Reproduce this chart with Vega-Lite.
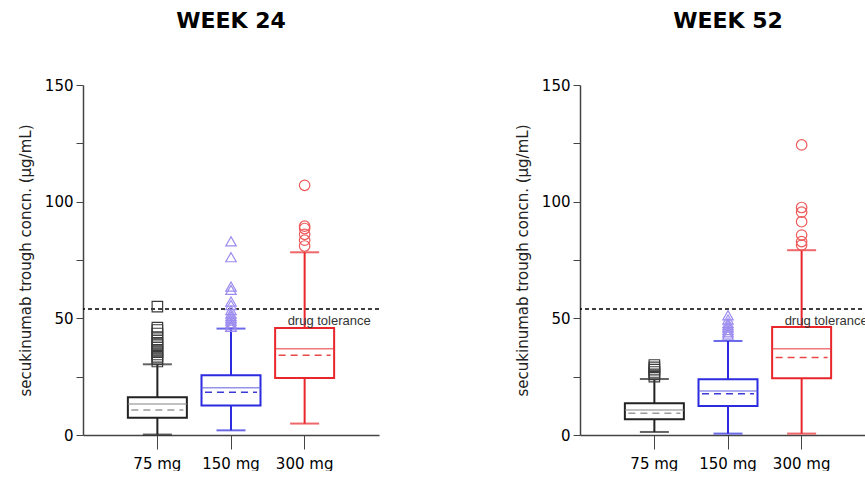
{
  "$schema": "https://vega.github.io/schema/vega-lite/v6.json",
  "padding": {"left": 18, "top": 10, "right": 0, "bottom": 0},
  "background": "white",
  "config": {
    "view": {"stroke": null},
    "font": "DejaVu Sans",
    "concat": {"spacing": 135}
  },
  "datasets": {
    "stats": [
      {"week": "WEEK 24", "dose": "75 mg", "lo": 0.2, "q1": 7.4, "median": 13.3, "mean": 10.7, "q3": 16.2, "hi": 30.3},
      {"week": "WEEK 24", "dose": "150 mg", "lo": 2.0, "q1": 12.6, "median": 20.2, "mean": 18.3, "q3": 25.6, "hi": 45.6},
      {"week": "WEEK 24", "dose": "300 mg", "lo": 4.9, "q1": 24.4, "median": 37.0, "mean": 34.2, "q3": 45.9, "hi": 78.3},
      {"week": "WEEK 52", "dose": "75 mg", "lo": 1.3, "q1": 6.7, "median": 10.7, "mean": 9.3, "q3": 13.6, "hi": 24.0},
      {"week": "WEEK 52", "dose": "150 mg", "lo": 0.6, "q1": 12.4, "median": 18.9, "mean": 17.7, "q3": 23.9, "hi": 40.3},
      {"week": "WEEK 52", "dose": "300 mg", "lo": 0.6, "q1": 24.3, "median": 37.0, "mean": 33.2, "q3": 46.3, "hi": 79.2}
    ],
    "outliers": [
      {"week": "WEEK 24", "dose": "75 mg", "value": 55},
      {"week": "WEEK 24", "dose": "75 mg", "value": 46},
      {"week": "WEEK 24", "dose": "75 mg", "value": 45},
      {"week": "WEEK 24", "dose": "75 mg", "value": 43.5},
      {"week": "WEEK 24", "dose": "75 mg", "value": 42},
      {"week": "WEEK 24", "dose": "75 mg", "value": 40.5},
      {"week": "WEEK 24", "dose": "75 mg", "value": 39.5},
      {"week": "WEEK 24", "dose": "75 mg", "value": 38.5},
      {"week": "WEEK 24", "dose": "75 mg", "value": 37.5},
      {"week": "WEEK 24", "dose": "75 mg", "value": 36.5},
      {"week": "WEEK 24", "dose": "75 mg", "value": 35.5},
      {"week": "WEEK 24", "dose": "75 mg", "value": 34.5},
      {"week": "WEEK 24", "dose": "75 mg", "value": 33.5},
      {"week": "WEEK 24", "dose": "75 mg", "value": 32.5},
      {"week": "WEEK 24", "dose": "75 mg", "value": 31.5},
      {"week": "WEEK 24", "dose": "150 mg", "value": 83},
      {"week": "WEEK 24", "dose": "150 mg", "value": 76.2},
      {"week": "WEEK 24", "dose": "150 mg", "value": 63.6},
      {"week": "WEEK 24", "dose": "150 mg", "value": 62.2},
      {"week": "WEEK 24", "dose": "150 mg", "value": 57.2},
      {"week": "WEEK 24", "dose": "150 mg", "value": 55.7},
      {"week": "WEEK 24", "dose": "150 mg", "value": 53.5},
      {"week": "WEEK 24", "dose": "150 mg", "value": 52},
      {"week": "WEEK 24", "dose": "150 mg", "value": 51},
      {"week": "WEEK 24", "dose": "150 mg", "value": 50},
      {"week": "WEEK 24", "dose": "150 mg", "value": 49},
      {"week": "WEEK 24", "dose": "150 mg", "value": 48},
      {"week": "WEEK 24", "dose": "150 mg", "value": 47},
      {"week": "WEEK 24", "dose": "150 mg", "value": 46.3},
      {"week": "WEEK 24", "dose": "300 mg", "value": 107},
      {"week": "WEEK 24", "dose": "300 mg", "value": 89.5},
      {"week": "WEEK 24", "dose": "300 mg", "value": 88.5},
      {"week": "WEEK 24", "dose": "300 mg", "value": 86},
      {"week": "WEEK 24", "dose": "300 mg", "value": 83.5},
      {"week": "WEEK 24", "dose": "300 mg", "value": 81},
      {"week": "WEEK 52", "dose": "75 mg", "value": 30},
      {"week": "WEEK 52", "dose": "75 mg", "value": 29},
      {"week": "WEEK 52", "dose": "75 mg", "value": 28},
      {"week": "WEEK 52", "dose": "75 mg", "value": 27},
      {"week": "WEEK 52", "dose": "75 mg", "value": 26},
      {"week": "WEEK 52", "dose": "75 mg", "value": 25},
      {"week": "WEEK 52", "dose": "150 mg", "value": 51.3},
      {"week": "WEEK 52", "dose": "150 mg", "value": 49.5},
      {"week": "WEEK 52", "dose": "150 mg", "value": 48},
      {"week": "WEEK 52", "dose": "150 mg", "value": 47},
      {"week": "WEEK 52", "dose": "150 mg", "value": 46},
      {"week": "WEEK 52", "dose": "150 mg", "value": 45},
      {"week": "WEEK 52", "dose": "150 mg", "value": 44},
      {"week": "WEEK 52", "dose": "150 mg", "value": 43},
      {"week": "WEEK 52", "dose": "300 mg", "value": 124.3},
      {"week": "WEEK 52", "dose": "300 mg", "value": 97.5},
      {"week": "WEEK 52", "dose": "300 mg", "value": 95.5},
      {"week": "WEEK 52", "dose": "300 mg", "value": 91.4},
      {"week": "WEEK 52", "dose": "300 mg", "value": 85.7},
      {"week": "WEEK 52", "dose": "300 mg", "value": 82.9},
      {"week": "WEEK 52", "dose": "300 mg", "value": 81.4}
    ],
    "tolerance": [{"label": "drug tolerance", "value": 54, "labelY": 48.7}]
  },
  "hconcat": [
    {
      "width": 296,
      "height": 350,
      "title": {"text": "WEEK 24", "fontSize": 22, "fontWeight": "bold", "color": "#000", "anchor": "middle", "baseline": "alphabetic", "offset": 28},
      "encoding": {
        "x": {"field": "dose", "type": "nominal", "sort": ["75 mg", "150 mg", "300 mg"],
          "scale": {"domain": ["75 mg", "150 mg", "300 mg"], "type": "band", "paddingInner": 0, "paddingOuter": 0.51},
          "axis": {"title": null, "labelAngle": 0, "labelFontSize": 15, "labelColor": "#000", "tickSize": 14, "labelPadding": 7, "domainColor": "#444", "tickColor": "#444", "domainWidth": 1.5}}
      },
      "layer": [
        {
          "data": {"name": "tolerance"},
          "mark": {"type": "rule", "strokeDash": [4, 3], "color": "#000", "strokeWidth": 1.4},
          "encoding": {"x": null, "y": {"field": "value", "type": "quantitative", "scale": {"domain": [0, 150], "nice": false},
            "axis": {"title": "secukinumab trough concn. (µg/mL)", "titleFontSize": 15, "titleFontWeight": "normal", "titleColor": "#222", "labelFontSize": 15, "labelColor": "#000", "values": [0, 25, 50, 75, 100, 125, 150], "labelExpr": "datum.value % 50 === 0 ? datum.label : ''", "tickSize": 7, "labelPadding": 3, "titlePadding": 11, "domainColor": "#444", "tickColor": "#444", "domainWidth": 1.5, "grid": false}}}
        },
        {
          "data": {"name": "stats"},
          "transform": [{"filter": "datum.week === 'WEEK 24'"}],
          "mark": {"type": "rule", "strokeWidth": 2},
          "encoding": {"y": {"field": "lo", "type": "quantitative"}, "y2": {"field": "hi"},
            "color": {"field": "dose", "type": "nominal", "scale": {"domain": ["75 mg", "150 mg", "300 mg"], "range": ["#222222", "#2b2be0", "#e8262b"]}, "legend": null}}
        },
        {
          "data": {"name": "stats"},
          "transform": [{"filter": "datum.week === 'WEEK 24'"}, {"fold": ["lo", "hi"], "as": ["end", "cap"]}],
          "mark": {"type": "tick", "size": 29, "thickness": 2},
          "encoding": {"y": {"field": "cap", "type": "quantitative"},
            "color": {"field": "dose", "type": "nominal", "scale": {"domain": ["75 mg", "150 mg", "300 mg"], "range": ["#222222", "#2b2be0", "#e8262b"]}, "legend": null}}
        },
        {
          "data": {"name": "stats"},
          "transform": [{"filter": "datum.week === 'WEEK 24'"}],
          "mark": {"type": "bar", "size": 59, "fill": "white", "strokeWidth": 2},
          "encoding": {"y": {"field": "q1", "type": "quantitative"}, "y2": {"field": "q3"},
            "stroke": {"field": "dose", "type": "nominal", "scale": {"domain": ["75 mg", "150 mg", "300 mg"], "range": ["#222222", "#2b2be0", "#e8262b"]}, "legend": null}}
        },
        {
          "data": {"name": "stats"},
          "transform": [{"filter": "datum.week === 'WEEK 24'"}],
          "mark": {"type": "tick", "size": 59, "thickness": 1.5},
          "encoding": {"y": {"field": "median", "type": "quantitative"},
            "color": {"field": "dose", "type": "nominal", "scale": {"domain": ["75 mg", "150 mg", "300 mg"], "range": ["#8a8a8a", "#6565e0", "#e84040"]}, "legend": null}}
        },
        {
          "data": {"name": "stats"},
          "transform": [{"filter": "datum.week === 'WEEK 24'"}],
          "mark": {"type": "rule", "strokeWidth": 1.5, "strokeDash": [7, 5], "xOffset": -26, "x2Offset": 26},
          "encoding": {"x": {"field": "dose", "type": "nominal", "bandPosition": 0.5}, "x2": {"field": "dose"}, "y": {"field": "mean", "type": "quantitative"},
            "color": {"field": "dose", "type": "nominal", "scale": {"domain": ["75 mg", "150 mg", "300 mg"], "range": ["#9a9a9a", "#3a3ad8", "#e84848"]}, "legend": null}}
        },
        {
          "data": {"name": "outliers"},
          "transform": [{"filter": "datum.week === 'WEEK 24'"}],
          "mark": {"type": "point", "filled": false, "size": 110, "strokeWidth": 1.2, "opacity": 1},
          "encoding": {"y": {"field": "value", "type": "quantitative"},
            "shape": {"field": "dose", "type": "nominal", "scale": {"domain": ["75 mg", "150 mg", "300 mg"], "range": ["square", "triangle-up", "circle"]}, "legend": null},
            "color": {"field": "dose", "type": "nominal", "scale": {"domain": ["75 mg", "150 mg", "300 mg"], "range": ["#3a3a3a", "#9d8cf0", "#ee5a5a"]}, "legend": null}}
        },
        {
          "data": {"name": "tolerance"},
          "mark": {"type": "text", "align": "left", "baseline": "middle", "dx": -17, "fontSize": 13, "font": "Liberation Sans", "color": "#333"},
          "encoding": {"x": {"datum": "300 mg"}, "y": {"field": "labelY", "type": "quantitative"}, "text": {"field": "label"}}
        }
      ],
      "resolve": {"scale": {"color": "independent", "stroke": "independent", "shape": "independent"}}
    },
    {
      "width": 296,
      "height": 350,
      "title": {"text": "WEEK 52", "fontSize": 22, "fontWeight": "bold", "color": "#000", "anchor": "middle", "baseline": "alphabetic", "offset": 28},
      "encoding": {
        "x": {"field": "dose", "type": "nominal", "sort": ["75 mg", "150 mg", "300 mg"],
          "scale": {"domain": ["75 mg", "150 mg", "300 mg"], "type": "band", "paddingInner": 0, "paddingOuter": 0.51},
          "axis": {"title": null, "labelAngle": 0, "labelFontSize": 15, "labelColor": "#000", "tickSize": 14, "labelPadding": 7, "domainColor": "#444", "tickColor": "#444", "domainWidth": 1.5}}
      },
      "layer": [
        {
          "data": {"name": "tolerance"},
          "mark": {"type": "rule", "strokeDash": [4, 3], "color": "#000", "strokeWidth": 1.4},
          "encoding": {"x": null, "y": {"field": "value", "type": "quantitative", "scale": {"domain": [0, 150], "nice": false},
            "axis": {"title": "secukinumab trough concn. (µg/mL)", "titleFontSize": 15, "titleFontWeight": "normal", "titleColor": "#222", "labelFontSize": 15, "labelColor": "#000", "values": [0, 25, 50, 75, 100, 125, 150], "labelExpr": "datum.value % 50 === 0 ? datum.label : ''", "tickSize": 7, "labelPadding": 3, "titlePadding": 11, "domainColor": "#444", "tickColor": "#444", "domainWidth": 1.5, "grid": false}}}
        },
        {
          "data": {"name": "stats"},
          "transform": [{"filter": "datum.week === 'WEEK 52'"}],
          "mark": {"type": "rule", "strokeWidth": 2},
          "encoding": {"y": {"field": "lo", "type": "quantitative"}, "y2": {"field": "hi"},
            "color": {"field": "dose", "type": "nominal", "scale": {"domain": ["75 mg", "150 mg", "300 mg"], "range": ["#222222", "#2b2be0", "#e8262b"]}, "legend": null}}
        },
        {
          "data": {"name": "stats"},
          "transform": [{"filter": "datum.week === 'WEEK 52'"}, {"fold": ["lo", "hi"], "as": ["end", "cap"]}],
          "mark": {"type": "tick", "size": 29, "thickness": 2},
          "encoding": {"y": {"field": "cap", "type": "quantitative"},
            "color": {"field": "dose", "type": "nominal", "scale": {"domain": ["75 mg", "150 mg", "300 mg"], "range": ["#222222", "#2b2be0", "#e8262b"]}, "legend": null}}
        },
        {
          "data": {"name": "stats"},
          "transform": [{"filter": "datum.week === 'WEEK 52'"}],
          "mark": {"type": "bar", "size": 59, "fill": "white", "strokeWidth": 2},
          "encoding": {"y": {"field": "q1", "type": "quantitative"}, "y2": {"field": "q3"},
            "stroke": {"field": "dose", "type": "nominal", "scale": {"domain": ["75 mg", "150 mg", "300 mg"], "range": ["#222222", "#2b2be0", "#e8262b"]}, "legend": null}}
        },
        {
          "data": {"name": "stats"},
          "transform": [{"filter": "datum.week === 'WEEK 52'"}],
          "mark": {"type": "tick", "size": 59, "thickness": 1.5},
          "encoding": {"y": {"field": "median", "type": "quantitative"},
            "color": {"field": "dose", "type": "nominal", "scale": {"domain": ["75 mg", "150 mg", "300 mg"], "range": ["#8a8a8a", "#6565e0", "#e84040"]}, "legend": null}}
        },
        {
          "data": {"name": "stats"},
          "transform": [{"filter": "datum.week === 'WEEK 52'"}],
          "mark": {"type": "rule", "strokeWidth": 1.5, "strokeDash": [7, 5], "xOffset": -26, "x2Offset": 26},
          "encoding": {"x": {"field": "dose", "type": "nominal", "bandPosition": 0.5}, "x2": {"field": "dose"}, "y": {"field": "mean", "type": "quantitative"},
            "color": {"field": "dose", "type": "nominal", "scale": {"domain": ["75 mg", "150 mg", "300 mg"], "range": ["#9a9a9a", "#3a3ad8", "#e84848"]}, "legend": null}}
        },
        {
          "data": {"name": "outliers"},
          "transform": [{"filter": "datum.week === 'WEEK 52'"}],
          "mark": {"type": "point", "filled": false, "size": 110, "strokeWidth": 1.2, "opacity": 1},
          "encoding": {"y": {"field": "value", "type": "quantitative"},
            "shape": {"field": "dose", "type": "nominal", "scale": {"domain": ["75 mg", "150 mg", "300 mg"], "range": ["square", "triangle-up", "circle"]}, "legend": null},
            "color": {"field": "dose", "type": "nominal", "scale": {"domain": ["75 mg", "150 mg", "300 mg"], "range": ["#3a3a3a", "#9d8cf0", "#ee5a5a"]}, "legend": null}}
        },
        {
          "data": {"name": "tolerance"},
          "mark": {"type": "text", "align": "left", "baseline": "middle", "dx": -17, "fontSize": 13, "font": "Liberation Sans", "color": "#333"},
          "encoding": {"x": {"datum": "300 mg"}, "y": {"field": "labelY", "type": "quantitative"}, "text": {"field": "label"}}
        }
      ],
      "resolve": {"scale": {"color": "independent", "stroke": "independent", "shape": "independent"}}
    }
  ]
}
